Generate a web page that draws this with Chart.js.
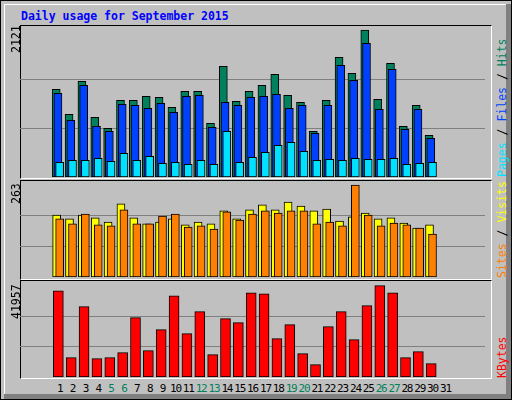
<!DOCTYPE html>
<html><head><meta charset="utf-8">
<script src="https://cdn.jsdelivr.net/npm/chart.js@4"></script>
<style>
body{margin:0;background:#fff;}
#wrap{position:absolute;left:0;top:0;width:510px;height:398px;background:#C0C0C0;border:1px solid #000;overflow:hidden;font-family:"DejaVu Sans Mono",monospace;}
#shadowR{position:absolute;left:505px;top:3px;width:5px;height:395px;background:#808080;}
#shadowB{position:absolute;left:3px;top:393px;width:507px;height:5px;background:#808080;}
#hiT{position:absolute;left:3px;top:3px;width:502px;height:1px;background:#fff;}
#hiL{position:absolute;left:3px;top:3px;width:1px;height:390px;background:#fff;}
.panel{position:absolute;left:19px;width:470px;border-top:1px solid #000;border-left:1px solid #000;border-right:1px solid #fff;border-bottom:1px solid #fff;}
canvas{position:absolute;}
.t{position:absolute;font-size:11.5px;white-space:nowrap;}
.xl{position:absolute;font-size:11px;letter-spacing:-1.2px;white-space:nowrap;}
.rot{position:absolute;transform-origin:0 0;transform:rotate(-90deg);font-size:11.5px;white-space:nowrap;}
</style></head><body>
<div id="wrap">
<div id="hiT"></div><div id="hiL"></div><div id="shadowR"></div><div id="shadowB"></div>
<div class="t" style="left:20px;top:8px;color:#0000FF;font-weight:bold;">Daily usage for September 2015</div>
<div class="panel" style="top:24px;height:152px;"></div>
<div class="panel" style="top:179px;height:98px;"></div>
<div class="panel" style="top:279px;height:97px;"></div>
<canvas id="c1" width="465" height="150" style="left:19px;top:26px;"></canvas>
<canvas id="c2" width="465" height="95" style="left:19px;top:181px;"></canvas>
<canvas id="c3" width="465" height="95" style="left:19px;top:281px;"></canvas>
<div class="rot" style="left:8px;top:52px;">2121</div>
<div class="rot" style="left:8px;top:203px;">263</div>
<div class="rot" style="left:8px;top:318px;">41957</div>
<div class="rot" style="left:494px;top:176px;"><span style="color:#00E0FF">Pages</span> / <span style="color:#0040FF">Files</span> / <span style="color:#00805C">Hits</span></div>
<div class="rot" style="left:494px;top:277px;"><span style="color:#FF8000">Sites</span> / <span style="color:#FFFF00">Visits</span></div>
<div class="rot" style="left:494px;top:377px;"><span style="color:#FF0000">KBytes</span></div>
<div id="xl"></div>
</div>
<script>
const days=[1,2,3,4,5,6,7,8,9,10,11,12,13,14,15,16,17,18,19,20,21,22,23,24,25,26,27,28,29,30,31];
const weekend=[5,6,12,13,19,20,26,27];
const hits=[1265,905,1381,861,703,1107,1107,1164,1150,1006,1237,1237,775,1597,1092,1237,1323,1482,1179,1078,659,1107,1727,1496,2121,1121,1641,731,1035,602,0];
const files=[1208,818,1323,731,659,1049,1035,991,1063,934,1164,1179,717,1078,1035,1150,1164,1193,991,1035,631,1035,1612,1395,1929,977,1554,688,977,558,0];
const pages=[212,241,241,270,227,342,241,299,198,212,183,241,183,659,212,284,356,457,501,371,241,255,241,270,255,255,270,183,198,212,0];
const sites=[177,166,177,169,157,209,169,152,157,166,149,157,152,189,166,192,206,192,214,203,189,194,160,172,183,166,169,154,140,149,0];
const visits=[166,152,180,149,146,192,152,152,174,180,143,146,137,186,163,180,189,183,189,189,152,157,146,263,177,146,154,149,140,123,0];
const kbytes=[39655,8880,32305,8421,8880,11177,27252,12095,21741,37357,19903,30008,10258,26793,24956,38734,38276,17607,24037,10717,5665,23119,30008,17147,32764,41957,38734,8880,11636,6124,0];
const maxLabels=[2121,263,41957];

function ds(vals,off,color,w){
  return {data:vals.map((v,i)=>({x:days[i]+off,y:v})),backgroundColor:color,borderColor:'#000',borderWidth:1,borderSkipped:false,barThickness:w,grouped:false};
}
function make(id,sets,labelMax,axisMax){
  return new Chart(document.getElementById(id),{type:'bar',data:{datasets:sets},
   options:{responsive:false,animation:false,layout:{padding:0},
    plugins:{legend:{display:false},tooltip:{enabled:false}},
    scales:{x:{type:'linear',min:0.5,max:31.5,display:false},
      y:{min:0,max:axisMax,ticks:{display:false},border:{display:false},
         grid:{color:'#808080',drawTicks:false,lineWidth:1},
         afterBuildTicks:s=>{s.ticks=[{value:labelMax/3},{value:labelMax*2/3}];}}}}});
}
make('c1',[ds(pages,0,'#00E0FF',8),ds(files,-0.133,'#0040FF',8),ds(hits,-0.267,'#00805C',8)],maxLabels[0],maxLabels[0]*150/147);
make('c2',[ds(visits,0,'#FF8000',8),ds(sites,-0.233,'#FFFF00',8)],maxLabels[1],maxLabels[1]*95/92);
const c3=make('c3',[ds(kbytes,-0.1,'#FF0000',10)],maxLabels[2],maxLabels[2]*95/91.3);
const xl=document.getElementById('xl');
days.forEach(d=>{
  const s=document.createElement('div');s.className='xl';
  s.textContent=d;s.style.color=weekend.includes(d)?'#00805C':'#000';
  const px=19+c3.scales.x.getPixelForValue(d);
  s.style.top='381px';s.style.left=(px-(String(d).length*5.4)/2)+'px';
  xl.appendChild(s);
});
</script>
</body></html>
